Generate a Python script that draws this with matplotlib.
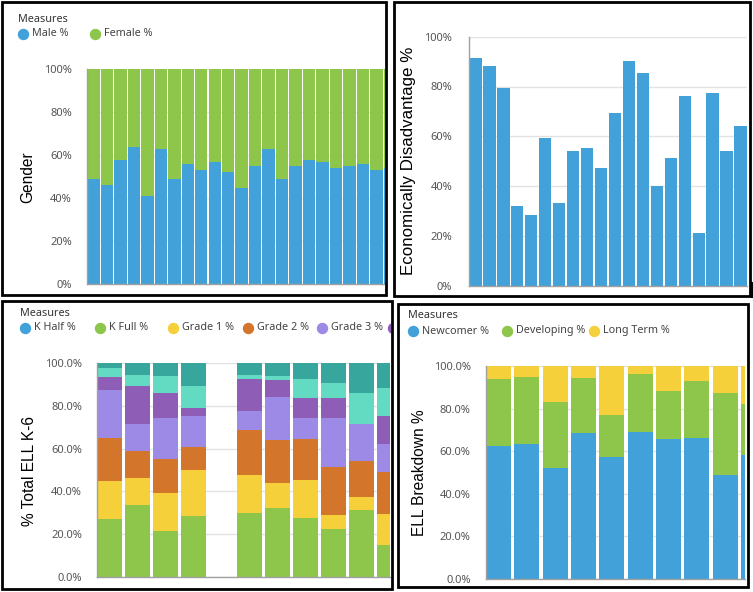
import numpy as np
import matplotlib.pyplot as plt
from matplotlib.lines import Line2D
from matplotlib.patches import Rectangle
from matplotlib.ticker import PercentFormatter

W, H = 753, 592

# panel 1: gender
male_pct = [48.9, 46.0, 57.9, 64.0, 41.1, 63.0, 48.9, 56.1, 53.1, 57.0, 52.0, 44.9,
            55.1, 63.0, 48.9, 55.1, 57.9, 57.0, 54.2, 55.1, 56.1, 53.1, 54.0]
female_pct = [51.1, 54.0, 42.7, 36.0, 58.9, 37.0, 51.1, 43.9, 47.5, 43.0, 48.0, 55.1,
              44.9, 37.0, 51.1, 44.9, 42.1, 43.0, 45.8, 44.9, 43.9, 46.9, 46.0]

# panel 2: economically disadvantaged
econ_pct = [91.3, 88.2, 79.4, 32.1, 28.2, 59.3, 33.2, 54.2, 55.3, 47.1, 69.2, 90.4,
            85.4, 40.2, 51.3, 76.3, 21.0, 77.2, 54.2, 64.3]

# panel 3: ELL by grade (school 5 has no data)
grade_labels = ["K Half %", "K Full %", "Grade 1 %", "Grade 2 %", "Grade 3 %",
                "Grade 4 %", "Grade 5 %", "Grade 6 %"]
k_half = [0, 0, 0, 0, 0, 0, 0, 0, 0, 0, 0]
k_full = [27.2, 33.6, 21.6, 28.6, 0, 30.0, 32.0, 27.3, 22.5, 31.4, 14.8]
grade1 = [17.6, 12.5, 17.8, 21.4, 0, 17.8, 12.1, 18.2, 6.4, 5.8, 14.4]
grade2 = [20.4, 12.8, 15.9, 10.9, 0, 20.9, 20.0, 18.9, 22.7, 17.0, 19.7]
grade3 = [22.3, 12.5, 19.2, 14.4, 0, 9.1, 20.1, 10.1, 22.6, 17.2, 13.1]
grade4 = [6.2, 18.1, 11.7, 3.6, 0, 14.8, 8.0, 9.1, 9.7, 0.0, 13.4]
grade5 = [4.2, 5.0, 8.0, 10.6, 0, 1.9, 2.0, 9.0, 6.7, 14.5, 13.2]
grade6 = [2.1, 5.5, 5.8, 10.5, 0, 5.5, 5.8, 7.4, 9.4, 14.1, 11.4]

# panel 4: ELL breakdown
newcomer = [62.7, 63.5, 52.4, 68.8, 57.5, 69.3, 66.0, 66.5, 49.1, 58.3]
developing = [31.3, 31.6, 30.7, 25.7, 19.6, 27.1, 22.4, 26.4, 38.2, 24.0]
long_term = [6.0, 4.9, 16.9, 5.5, 22.9, 3.6, 11.6, 7.1, 12.7, 17.7]

BLUE = "#42a1d8"
GREEN = "#8dc64b"
YELLOW = "#f6d03a"
ORANGE = "#d4752c"
LAVENDER = "#9d89e6"
PURPLE = "#8e5db6"
LTEAL = "#63dbc2"
DTEAL = "#37a69c"
grade_colors = [BLUE, GREEN, YELLOW, ORANGE, LAVENDER, PURPLE, LTEAL, DTEAL]

TICK_FONT = "Noto Sans"
LABEL_FONT = "Liberation Sans"

fig = plt.figure(figsize=(W / 100, H / 100), dpi=100)


def px_axes(left, top, right, bottom):
    return fig.add_axes([left / W, 1 - bottom / H, (right - left) / W, (bottom - top) / H])


def chart_axes(left, top, right, bottom, step_px, bar_w, decimals):
    ax = px_axes(left, top, right, bottom)
    ax.set_xlim(-bar_w / 2, -bar_w / 2 + (right - left) / step_px)
    ax.set_ylim(0, 100)
    ax.set_yticks(range(0, 101, 20))
    ax.yaxis.set_major_formatter(PercentFormatter(decimals=decimals))
    ax.set_xticks([])
    ax.tick_params(axis="y", length=0, pad=11, labelsize=8, labelcolor="#555555")
    for lab in ax.get_yticklabels():
        lab.set_fontfamily(TICK_FONT)
    for s in ["top", "right"]:
        ax.spines[s].set_visible(False)
    for s in ["left", "bottom"]:
        ax.spines[s].set_color("#a0a0a0")
        ax.spines[s].set_linewidth(1)
    ax.grid(axis="y", color="#e2e2e2", lw=1)
    ax.set_axisbelow(True)
    return ax


def legend_axes(left, top, right, bottom):
    ax = px_axes(left, top, right, bottom)
    ax.set_xlim(left, right)
    ax.set_ylim(bottom, top)
    ax.axis("off")
    return ax


def legend(ax, x, y, items, title_y, right_edge):
    ax.text(x - 5, title_y, "Measures", fontsize=7.8, family=TICK_FONT, color="#333333",
            va="center", ha="left", clip_on=True)
    for cx, label, color in items:
        if cx - 5 > right_edge:
            continue
        ax.plot([cx], [y], "o", ms=7.2, color=color, clip_on=True)
        # items cut off by the panel edge only show their marker
        if cx + 9 < right_edge:
            ax.text(cx + 9, y, label, fontsize=7.8, family=TICK_FONT, color="#444444",
                    va="center", ha="left", clip_on=True)


def border(x0, y0, x1, y1):
    fig.add_artist(Rectangle((x0 / W, 1 - y1 / H), (x1 - x0) / W, (y1 - y0) / H,
                             transform=fig.transFigure, fill=False, ec="black", lw=2))


def ylabel(x, y, text, size=11.2):
    fig.text(x / W, 1 - y / H, text, rotation=90, ha="center", va="center",
             fontsize=size, family=LABEL_FONT, color="black")


# ---- panel 1
ax1 = chart_axes(87.3, 69.3, 385, 284, 13.47, 0.92, 0)
x = np.arange(len(male_pct))
ax1.bar(x, male_pct, 0.92, color=BLUE)
ax1.bar(x, female_pct, 0.92, bottom=male_pct, color=GREEN)
lg1 = legend_axes(3, 3, 385, 60)
legend(lg1, 23, 34, [(23, "Male %", BLUE), (95, "Female %", GREEN)], 19, 385)
ylabel(28, 177, "Gender")

# ---- panel 2
ax2 = chart_axes(469, 36.7, 747, 285.7, 13.97, 0.9, 0)
ax2.tick_params(axis="y", pad=12)
ax2.bar(np.arange(len(econ_pct)), econ_pct, 0.9, color=BLUE)
ylabel(408, 161, "Economically Disadvantage %", 12.2)

# ---- panel 3
ax3 = chart_axes(97.3, 363.3, 390, 576.7, 27.93, 0.895, 1)
series = [k_half, k_full, grade1, grade2, grade3, grade4, grade5, grade6]
x = np.arange(len(k_full))
bottom = np.zeros(len(k_full))
for vals, color in zip(series, grade_colors):
    ax3.bar(x, vals, 0.895, bottom=bottom, color=color)
    bottom += np.array(vals)
lg3 = legend_axes(3, 303, 390, 350)
xs3 = [25, 100, 173, 248, 322, 393, 467, 541]
legend(lg3, 25, 328, list(zip(xs3, grade_labels, grade_colors)), 313, 390)
ylabel(30, 471, "% Total ELL K-6")

# ---- panel 4
ax4 = chart_axes(486, 366.3, 744.5, 579, 28.33, 0.88, 1)
x = np.arange(len(newcomer))
ax4.bar(x, newcomer, 0.88, color=BLUE)
ax4.bar(x, developing, 0.88, bottom=newcomer, color=GREEN)
ax4.bar(x, long_term, 0.88, bottom=np.add(newcomer, developing), color=YELLOW)
lg4 = legend_axes(400, 305, 747, 350)
legend(lg4, 413, 331, [(413, "Newcomer %", BLUE), (507, "Developing %", GREEN),
                       (594, "Long Term %", YELLOW)], 316, 747)
ylabel(420, 473, "ELL Breakdown %")

# ---- panel frames
border(1.5, 1.5, 385.5, 294.5)
border(394, 1.5, 750, 296)
border(1.5, 300.5, 391.5, 589)
border(398, 304, 748, 587)
fig.add_artist(Line2D([752 / W, 752 / W], [1 - 283 / H, 1 - 297 / H],
                      transform=fig.transFigure, color="black", lw=1.5))

fig.savefig("out.png", dpi=100)
